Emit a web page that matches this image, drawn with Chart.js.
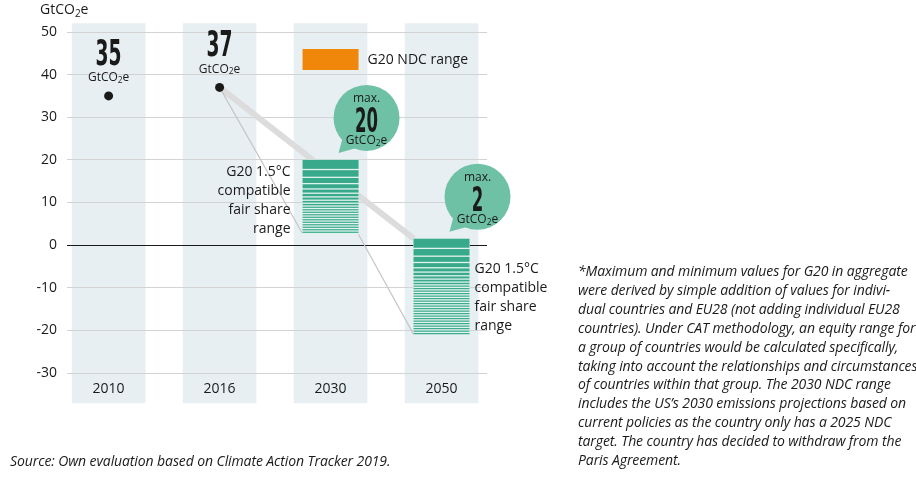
<!DOCTYPE html>
<html>
<head>
<meta charset="utf-8">
<script src="https://cdn.jsdelivr.net/npm/chart.js@4"></script>
<style>
  html, body { margin: 0; padding: 0; background: #fff; }
  #wrap { position: relative; width: 916px; height: 478px; overflow: hidden; font-family: "Open Sans", sans-serif; color: #1a1a1a; }
  #box { position: absolute; left: 0; top: 0; width: 916px; height: 478px; }
  #unit { position: absolute; left: 40px; top: 0px; font-size: 14px; line-height: 18px; }
  #unit sub { font-size: 10px; vertical-align: -3px; line-height: 0; }
  #note { position: absolute; left: 578px; top: 262px; font-size: 14px; font-style: italic; line-height: 18.9px; white-space: nowrap; letter-spacing: -0.1px; }
  #source { position: absolute; left: 10px; top: 452px; font-size: 14px; font-style: italic; line-height: 18px; letter-spacing: -0.1px; white-space: nowrap; }
</style>
</head>
<body>
<div id="wrap">
  <div id="box"><canvas id="chart"></canvas></div>
  <div id="unit">GtCO<sub>2</sub>e</div>
  <div id="note">*Maximum and minimum values for G20 in aggregate<br>were derived by simple addition of values for indivi-<br>dual countries and EU28 (not adding individual EU28<br>countries). Under CAT methodology, an equity range for<br>a group of countries would be calculated specifically,<br>taking into account the relationships and circumstances<br>of countries within that group. The 2030 NDC range<br>includes the US’s 2030 emissions projections based on<br>current policies as the country only has a 2025 NDC<br>target. The country has decided to withdraw from the<br>Paris Agreement.</div>
  <div id="source">Source: Own evaluation based on Climate Action Tracker 2019.</div>
</div>
<script>
// data
const years = ['2010', '2016', '2030', '2050'];
const pastEmissions = [35, 37];        // 2010, 2016
const fairShareMax = [20, 1.5];        // 2030, 2050
const fairShareMin = [2.6, -21];       // 2030, 2050
const maxLabels = ['20', '2'];
const columnSpan = [-37, 52];
const rangeLabel = ['G20 1.5°C', 'compatible', 'fair share', 'range'];
const legendLabel = 'G20 NDC range';

const teal = '#39a98b';
const bubble = '#6fc1a6';
const font = '"Open Sans", sans-serif';
const bigFont = '"Liberation Sans Narrow", "DejaVu Sans Condensed", sans-serif';
const edge = 0.25; // half a range bar, in category units

function drawUnit(ctx, x, y, size) {
  ctx.save();
  ctx.textAlign = 'left';
  ctx.textBaseline = 'middle';
  ctx.font = size + 'px ' + font;
  const a = ctx.measureText('GtCO').width;
  const c = ctx.measureText('e').width;
  ctx.font = (size * 0.7) + 'px ' + font;
  const b = ctx.measureText('2').width;
  let left = x - (a + b + c) / 2;
  ctx.font = size + 'px ' + font;
  ctx.fillText('GtCO', left, y);
  ctx.fillText('e', left + a + b, y);
  ctx.font = (size * 0.7) + 'px ' + font;
  ctx.fillText('2', left + a, y + size * 0.22);
  ctx.restore();
}

function drawBig(ctx, text, x, baseline, size, wantWidth) {
  // condensed bold figures: squeeze the glyphs to the width seen in the picture
  ctx.save();
  ctx.font = 'bold ' + size + 'px ' + bigFont;
  const w = ctx.measureText(text).width;
  ctx.translate(x, baseline);
  ctx.scale(Math.min(1, wantWidth / w), 1);
  ctx.textAlign = 'center';
  ctx.textBaseline = 'alphabetic';
  ctx.fillText(text, 0, 0);
  ctx.restore();
}

function barBox(el) {
  const p = el.getProps(['x', 'y', 'base', 'width'], true);
  return { left: p.x - p.width / 2, right: p.x + p.width / 2, top: Math.min(p.y, p.base), bottom: Math.max(p.y, p.base), width: p.width, x: p.x };
}

const overlay = {
  id: 'overlay',
  afterDatasetDraw(chart, args) {
    const ctx = chart.ctx;
    if (args.index === 0) {
      // grid lines sit on top of the pale columns
      chart.scales.y.drawGrid(chart.chartArea);
    }
    if (args.index === 3) {
      const bands = [9, 6.5, 5, 4, 3, 2.4, 2, 1.7, 1.5];
      ctx.save();
      ctx.fillStyle = teal;
      args.meta.data.forEach(el => {
        const b = barBox(el);
        let cy = b.top, k = 0;
        while (cy < b.bottom - 0.5) {
          const h = k < bands.length ? bands[k] : 1.2;
          ctx.fillRect(b.left, cy, b.width, Math.min(h, b.bottom - cy));
          cy += h + 1.3;
          k++;
        }
      });
      ctx.restore();
    }
  },
  afterDraw(chart) {
    const ctx = chart.ctx;
    const xs = chart.scales.x, ys = chart.scales.y;
    ctx.save();
    ctx.fillStyle = '#1a1a1a';

    // 2010 / 2016 values
    pastEmissions.forEach((v, i) => {
      const px = xs.getPixelForValue(i), py = ys.getPixelForValue(v);
      drawBig(ctx, String(v), px, py - 31, 36, 26);
      drawUnit(ctx, px, py - 18, 12);
    });

    // range bubbles and labels
    const bars = chart.getDatasetMeta(3).data;
    bars.forEach((el, i) => {
      const b = barBox(el);
      const cx = b.x + 36, cy = b.top - 42, r = 33;
      ctx.fillStyle = bubble;
      ctx.beginPath();
      ctx.arc(cx, cy, r, 0, Math.PI * 2);
      ctx.fill();
      ctx.beginPath();
      ctx.moveTo(cx - 24, cy + 20);
      ctx.lineTo(cx - 28, cy + 35);
      ctx.lineTo(cx - 10, cy + 30);
      ctx.closePath();
      ctx.fill();
      ctx.fillStyle = '#1a1a1a';
      ctx.font = '12px ' + font;
      ctx.textAlign = 'center';
      ctx.textBaseline = 'middle';
      ctx.fillText('max.', cx, cy - 19);
      drawBig(ctx, maxLabels[i], cx, cy + 14, 34, maxLabels[i].length * 11.5);
      drawUnit(ctx, cx, cy + 23, 12);

      ctx.font = '14px ' + font;
      ctx.textBaseline = 'middle';
      rangeLabel.forEach((t, j) => {
        if (i === 0) {
          ctx.textAlign = 'right';
          ctx.fillText(t, b.left - 12, b.top + 12 + j * 19);
        } else {
          ctx.textAlign = 'left';
          ctx.fillText(t, b.right + 5, b.top + 30 + j * 19);
        }
      });
    });

    // legend for the NDC range
    const lb = barBox(bars[0]);
    const top = chart.chartArea.top;
    ctx.fillStyle = '#f0860a';
    ctx.fillRect(lb.left, top + 17, lb.width, 21);
    ctx.fillStyle = '#1a1a1a';
    ctx.font = '14px ' + font;
    ctx.textAlign = 'left';
    ctx.textBaseline = 'middle';
    ctx.fillText(legendLabel, lb.right + 9, top + 28);
    ctx.restore();
  }
};

new Chart(document.getElementById('chart'), {
  type: 'bar',
  data: {
    datasets: [
      {
        label: 'columns',
        data: years.map((_, i) => ({ x: i, y: columnSpan })),
        backgroundColor: '#e8eff3',
        barThickness: 73,
        grouped: false,
        clip: false,
        order: 5
      },
      {
        type: 'line',
        label: 'upper',
        data: [{ x: 1, y: pastEmissions[1] }, { x: 3 - edge, y: fairShareMax[1] }],
        borderColor: '#dcdcdc',
        borderWidth: 6,
        pointRadius: 0,
        order: 4
      },
      {
        type: 'line',
        label: 'lower',
        data: [
          { x: 1, y: pastEmissions[1] }, { x: 2 - edge, y: fairShareMin[0] },
          { x: 2, y: null },
          { x: 2 + edge, y: fairShareMin[0] }, { x: 3 - edge, y: fairShareMin[1] }
        ],
        borderColor: '#c6c6c6',
        borderWidth: 1.2,
        pointRadius: 0,
        order: 3
      },
      {
        label: 'range',
        data: [
          { x: 2, y: [fairShareMin[0], fairShareMax[0]] },
          { x: 3, y: [fairShareMin[1], fairShareMax[1]] }
        ],
        backgroundColor: '#e0f3ec',
        barThickness: 56,
        grouped: false,
        order: 2
      },
      {
        type: 'scatter',
        label: 'past',
        data: pastEmissions.map((v, i) => ({ x: i, y: v })),
        pointRadius: 4.5,
        backgroundColor: '#1a1a1a',
        borderWidth: 0,
        order: 1
      }
    ]
  },
  options: {
    responsive: true,
    maintainAspectRatio: false,
    animation: false,
    layout: { padding: { left: 0, top: 32, right: 429, bottom: 0 } },
    plugins: { legend: { display: false }, tooltip: { enabled: false } },
    scales: {
      x: {
        type: 'linear',
        min: -0.375,
        max: 3.41,
        offset: false,
        grid: { display: false, drawTicks: false },
        border: { display: false },
        afterBuildTicks: s => { s.ticks = years.map((_, i) => ({ value: i })); },
        afterFit: s => { s.height = 105; },
        ticks: {
          z: 1,
          padding: 8,
          color: '#1a1a1a',
          font: { family: 'Open Sans', size: 14 },
          callback: v => years[v]
        }
      },
      y: {
        min: -30,
        max: 50,
        afterFit: s => { s.width = 67; },
        border: { display: false },
        grid: {
          drawTicks: false,
          color: c => c.tick.value === 0 ? '#1a1a1a' : '#d3d3d3',
          lineWidth: 1
        },
        ticks: {
          stepSize: 10,
          padding: 10,
          color: '#1a1a1a',
          font: { family: 'Open Sans', size: 14 }
        }
      }
    }
  },
  plugins: [overlay]
});
</script>
</body>
</html>
